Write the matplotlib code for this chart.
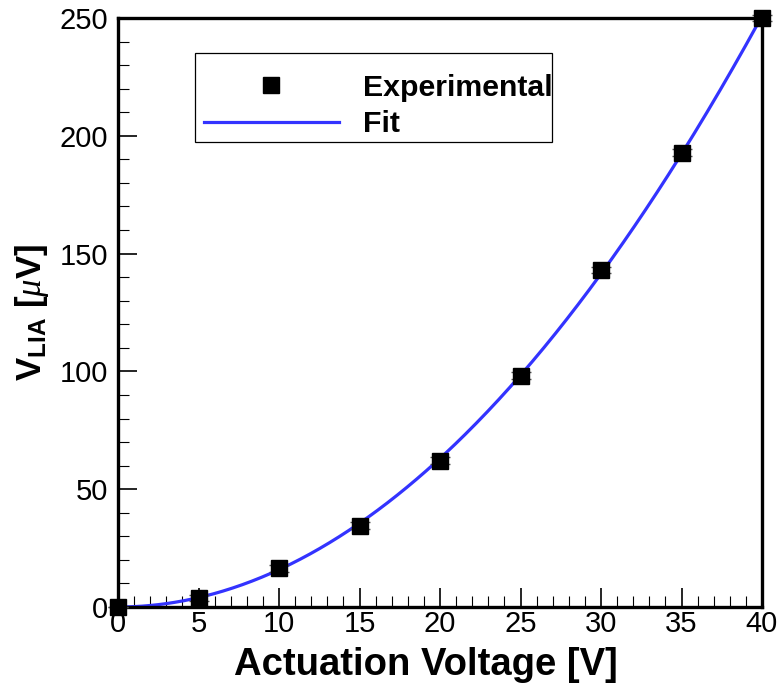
import numpy as np
import matplotlib
matplotlib.use("Agg")
import matplotlib.pyplot as plt
from matplotlib.ticker import MultipleLocator
from matplotlib.patches import Rectangle

# Lock-in amplifier output versus actuation voltage
voltage = np.array([0, 5, 10, 15, 20, 25, 30, 35, 40], dtype=float)
v_lia = np.array([0.0, 3.8, 16.4, 34.5, 62.1, 98.2, 143.0, 192.8, 250.0])
v_err = np.array([0.0, 1.4, 1.4, 1.4, 1.4, 1.4, 1.4, 1.4, 1.4])

x_ticks = [0, 5, 10, 15, 20, 25, 30, 35, 40]
y_ticks = [0, 50, 100, 150, 200, 250]

# Power-law fit y = a * x**b (least squares in linear space)
pos = voltage > 0
best = None
for b in np.linspace(1.5, 2.5, 2001):
    basis = voltage[pos] ** b
    a = basis @ v_lia[pos] / (basis @ basis)
    res = np.sum((a * basis - v_lia[pos]) ** 2)
    if best is None or res < best[0]:
        best = (res, a, b)
_, fit_a, fit_b = best
x_fit = np.linspace(0, 40, 400)
y_fit = fit_a * x_fit ** fit_b

plt.rcParams["font.family"] = ["Liberation Sans", "DejaVu Sans"]
plt.rcParams["mathtext.fontset"] = "custom"
plt.rcParams["mathtext.rm"] = "Liberation Sans"
plt.rcParams["mathtext.bf"] = "Liberation Sans:bold"
plt.rcParams["mathtext.it"] = "Liberation Serif:italic"

fig = plt.figure(figsize=(7.8, 6.88), dpi=100)
ax = fig.add_axes([118 / 780, 1 - 607 / 688, 644 / 780, 589 / 688])

fit_line, = ax.plot(x_fit, y_fit, color="#3333ff", lw=2.3, zorder=2, label="Fit")
ax.errorbar(voltage, v_lia, yerr=v_err, fmt="none", ecolor="#555555",
            elinewidth=1.0, capsize=7.5, capthick=1.0, zorder=3, clip_on=False)
pts, = ax.plot(voltage, v_lia, ls="none", marker="s", ms=11.5, color="black",
               mec="black", zorder=4, clip_on=False, label="Experimental")

ax.set_xlim(0, 40)
ax.set_ylim(0, 250)
ax.set_xticks(x_ticks)
ax.set_yticks(y_ticks)
ax.xaxis.set_minor_locator(MultipleLocator(1))
ax.yaxis.set_minor_locator(MultipleLocator(10))
ax.tick_params(which="major", direction="in", length=14, width=1.2,
               labelsize=21, top=False, right=False)
ax.tick_params(which="minor", direction="in", length=8, width=0.8,
               top=False, right=False)
ax.tick_params(axis="x", which="major", pad=2)
ax.tick_params(axis="y", which="major", pad=7)

for side in ["left", "bottom", "top", "right"]:
    ax.spines[side].set_linewidth(2.4)

ax.set_xlabel("Actuation Voltage [V]", fontsize=27.5, fontweight="bold")
ax.xaxis.set_label_coords((426 - 118) / 644, -0.068)
ax.xaxis.label.set_verticalalignment("top")
ax.set_ylabel(r"$\mathbf{V}_{\mathbf{LIA}}$ [$\mu$V]", fontsize=25,
              fontweight="bold", labelpad=6)

# Legend box
ax.add_patch(Rectangle((77 / 644, 465 / 589), 357 / 644, 89 / 589,
                       transform=ax.transAxes, fill=True, facecolor="white",
                       edgecolor="black", lw=0.9, zorder=5))
leg = ax.legend([pts, fit_line], ["Experimental", "Fit"], frameon=False,
                loc="upper left", bbox_to_anchor=(80 / 644, 1 - 50 / 589),
                prop={"weight": "bold", "size": 21.8}, handlelength=4.45,
                handletextpad=0.8, labelspacing=0.27, borderpad=0.2,
                borderaxespad=0)
leg.set_zorder(6)

fig.savefig("out.png", dpi=100)
